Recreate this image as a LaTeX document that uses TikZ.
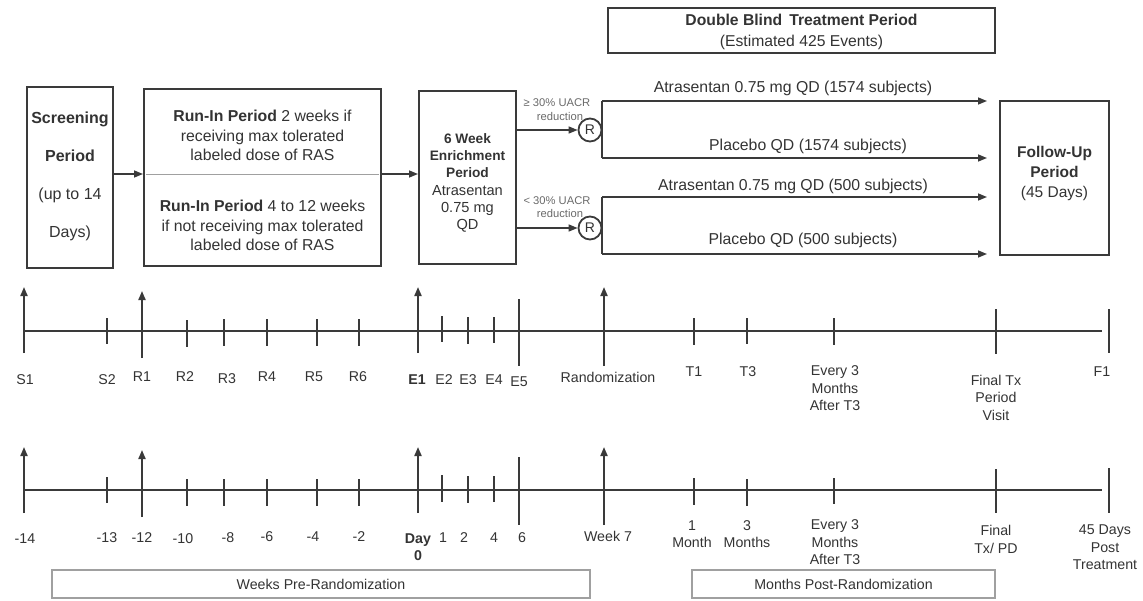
\documentclass[tikz,border=0pt]{standalone}
\usepackage{fontspec}
\setmainfont{Liberation Sans}
\usetikzlibrary{arrows.meta}
\definecolor{ink}{HTML}{333333}
\definecolor{rule}{HTML}{3A3A3A}
\definecolor{soft}{HTML}{A0A0A0}
\definecolor{faint}{HTML}{6A6A6A}
\tikzset{
  box/.style={draw=rule, line width=2pt, inner sep=0pt},
  txt/.style={text=ink, inner sep=0pt, align=center, font=\fontsize{15.8}{19.5}\selectfont},
  tl/.style={text=ink, inner sep=0pt, align=center, font=\fontsize{14.2}{17.5}\selectfont},
  small/.style={text=faint, inner sep=0pt, align=center, font=\fontsize{11.2}{13}\selectfont},
  conn/.style={draw=rule, line width=1.5pt, -{Triangle[length=9pt,width=7pt]}},
  plain/.style={draw=rule, line width=1.5pt},
  tick/.style={draw=rule, line width=1.3pt},
  bigtick/.style={draw=rule, line width=1.9pt},
  uparrow/.style={draw=rule, line width=1.9pt, -{Triangle[length=9pt,width=7pt]}},
  axis/.style={draw=rule, line width=1.4pt},
  scalebox/.style={draw=soft, line width=1.2pt, inner sep=0pt, minimum height=28pt, text=ink, font=\fontsize{14.2}{17}\selectfont},
  rcirc/.style={circle, draw=rule, line width=1.8pt, minimum size=23pt, inner sep=0pt, text=ink, font=\fontsize{14}{14}\selectfont},
}
\begin{document}
\begin{tikzpicture}[x=1pt,y=-1pt]
\useasboundingbox (0,0) rectangle (1143,600);

% ---------- top boxes ----------
\node[box, minimum width=86pt, minimum height=181pt] (scr) at (70,177.5) {};
\node[txt, font=\fontsize{16}{38}\selectfont] (scrt) at (70,176) {\textbf{Screening}\\\textbf{Period}\\(up to 14\\Days)};

\node[box, minimum width=237pt, minimum height=177pt] (run) at (262.5,177.5) {};
\draw[soft, line width=0.8pt] (146,174) -- (379,174);
\node[txt] (runa) at (262.5,135.5) {\textbf{Run-In Period} 2 weeks if\\receiving max tolerated\\labeled dose of RAS};
\node[txt] (runb) at (262.5,225.5) {\textbf{Run-In Period} 4 to 12 weeks\\if not receiving max tolerated\\labeled dose of RAS};

\node[box, minimum width=97pt, minimum height=173pt] (enr) at (467.5,177.5) {};
\node[txt, font=\fontsize{13.7}{17.2}\selectfont] (enrt) at (467.5,183) {\textbf{6 Week}\\\textbf{Enrichment}\\\textbf{Period}\\{\fontsize{14.6}{17.2}\selectfont Atrasentan}\\{\fontsize{14.6}{17.2}\selectfont 0.75 mg}\\{\fontsize{14.6}{17.2}\selectfont QD}};

\draw[conn] (scr.east |- 0,174) -- (run.west |- 0,174);
\draw[conn] (run.east |- 0,174) -- (enr.west |- 0,174);

\node[rcirc] (R1) at (590,130) {R};
\node[rcirc] (R2) at (590,228) {R};
\draw[conn] (enr.east |- R1.west) -- (R1.west);
\draw[conn] (enr.east |- R2.west) -- (R2.west);
\node[small] (u1a) at (557,103) {≥ 30\% UACR};
\node[small] (u1b) at (560,116) {reduction};
\node[small] (u2a) at (557,201) {< 30\% UACR};
\node[small] (u2b) at (560,213) {reduction};

\node[box, minimum width=387pt, minimum height=45pt] (dbl) at (801.5,30.5) {};
\node[txt, font=\fontsize{15.7}{21}\selectfont] (dblt) at (801.5,31.5) {\textbf{Double Blind\, Treatment Period}\\(Estimated 425 Events)};

\node[box, minimum width=109pt, minimum height=154pt] (fu) at (1054.5,178) {};
\node[txt, font=\fontsize{15.5}{20}\selectfont] (fut) at (1054.5,173) {\textbf{Follow-Up}\\\textbf{Period}\\(45 Days)};

\coordinate (b1t) at (602,101);
\coordinate (b1b) at (602,158);
\coordinate (b2t) at (602,197);
\coordinate (b2b) at (602,254);
\draw[plain] (b1t) -- (b1b);
\draw[plain] (b2t) -- (b2b);
\draw[conn, shorten >=12pt] (b1t) -- (fu.west |- b1t);
\draw[conn, shorten >=12pt] (b1b) -- (fu.west |- b1b);
\draw[conn, shorten >=12pt] (b2t) -- (fu.west |- b2t);
\draw[conn, shorten >=12pt] (b2b) -- (fu.west |- b2b);

\node[txt] (arm1) at (793,88) {Atrasentan 0.75 mg QD (1574 subjects)};
\node[txt] (arm2) at (808,146) {Placebo QD (1574 subjects)};
\node[txt] (arm3) at (793,186) {Atrasentan 0.75 mg QD (500 subjects)};
\node[txt] (arm4) at (803,240) {Placebo QD (500 subjects)};

% ---------- timeline 1 ----------
\draw[axis] (23,331) -- (1102,331);
\foreach \x/\a/\b in {24/353/287, 142/358/291, 418/353/287, 604/366/287}
  \draw[uparrow] (\x,\a) -- (\x,\b);
\foreach \x/\a/\b in {107/318/344, 187/320/347, 224/319/346, 267/319/346, 317/319/346, 359/319/346,
                      442/316/342, 468/317/344, 494/317/343, 694/318/345, 747/318/344, 834/318/345}
  \draw[tick] (\x,\a) -- (\x,\b);
\foreach \x/\a/\b in {519/299/366, 996/309/354, 1109/309/353}
  \draw[bigtick] (\x,\a) -- (\x,\b);

\node[tl] (lS1) at (25,380) {S1};
\node[tl] (lS2) at (107,380) {S2};
\node[tl] (lR1) at (142,377) {R1};
\node[tl] (lR2) at (185,377) {R2};
\node[tl] (lR3) at (227,379) {R3};
\node[tl] (lR4) at (267,377) {R4};
\node[tl] (lR5) at (314,377) {R5};
\node[tl] (lR6) at (358,377) {R6};
\node[tl] (lE1) at (417,380) {\textbf{E1}};
\node[tl] (lE2) at (444,380) {E2};
\node[tl] (lE3) at (468,380) {E3};
\node[tl] (lE4) at (494,380) {E4};
\node[tl] (lE5) at (519,382) {E5};
\node[tl] (lRand) at (608,377) {Randomization};
\node[tl] (lT1) at (694,372) {T1};
\node[tl] (lT3) at (748,372) {T3};
\node[tl] (lEv) at (835,388.5) {Every 3\\Months\\After T3};
\node[tl] (lFin) at (996,397.5) {Final Tx\\Period\\Visit};
\node[tl] (lF1) at (1102,372) {F1};

% ---------- timeline 2 ----------
\draw[axis] (23,490) -- (1102,490);
\foreach \x/\a/\b in {24/513/447, 142/517/450, 418/513/447, 604/525/447}
  \draw[uparrow] (\x,\a) -- (\x,\b);
\foreach \x/\a/\b in {107/477/503, 187/479/506, 224/479/506, 267/479/506, 317/479/506, 359/479/506,
                      442/475/502, 468/476/503, 494/476/502, 694/478/505, 747/479/506, 834/478/504}
  \draw[tick] (\x,\a) -- (\x,\b);
\foreach \x/\a/\b in {519/457/525, 996/469/513, 1109/468/513}
  \draw[bigtick] (\x,\a) -- (\x,\b);

\node[tl] (m14) at (25,539) {-14};
\node[tl] (m13) at (107,538) {-13};
\node[tl] (m12) at (142,538) {-12};
\node[tl] (m10) at (183,539) {-10};
\node[tl] (m8) at (228,538) {-8};
\node[tl] (m6) at (267,537) {-6};
\node[tl] (m4) at (313,537) {-4};
\node[tl] (m2) at (359,537) {-2};
\node[tl] (d0) at (418,547) {\textbf{Day}\\\textbf{0}};
\node[tl] (p1) at (443,538) {1};
\node[tl] (p2) at (464,538) {2};
\node[tl] (p4) at (494,538) {4};
\node[tl] (p6) at (522,538) {6};
\node[tl] (w7) at (608,536) {Week 7};
\node[tl] (mo1) at (692,534) {1\\Month};
\node[tl] (mo3) at (747,534) {3\\Months};
\node[tl] (mev) at (835,542.5) {Every 3\\Months\\After T3};
\node[tl] (mfin) at (996,539.5) {Final\\Tx/ PD};
\node[tl] (m45) at (1105,547.5) {45 Days\\Post\\Treatment};

\node[scalebox, minimum width=538pt] (pre) at (321,584) {Weeks Pre-Randomization};
\node[scalebox, minimum width=303pt] (post) at (843.5,584) {Months Post-Randomization};
\end{tikzpicture}
\end{document}
